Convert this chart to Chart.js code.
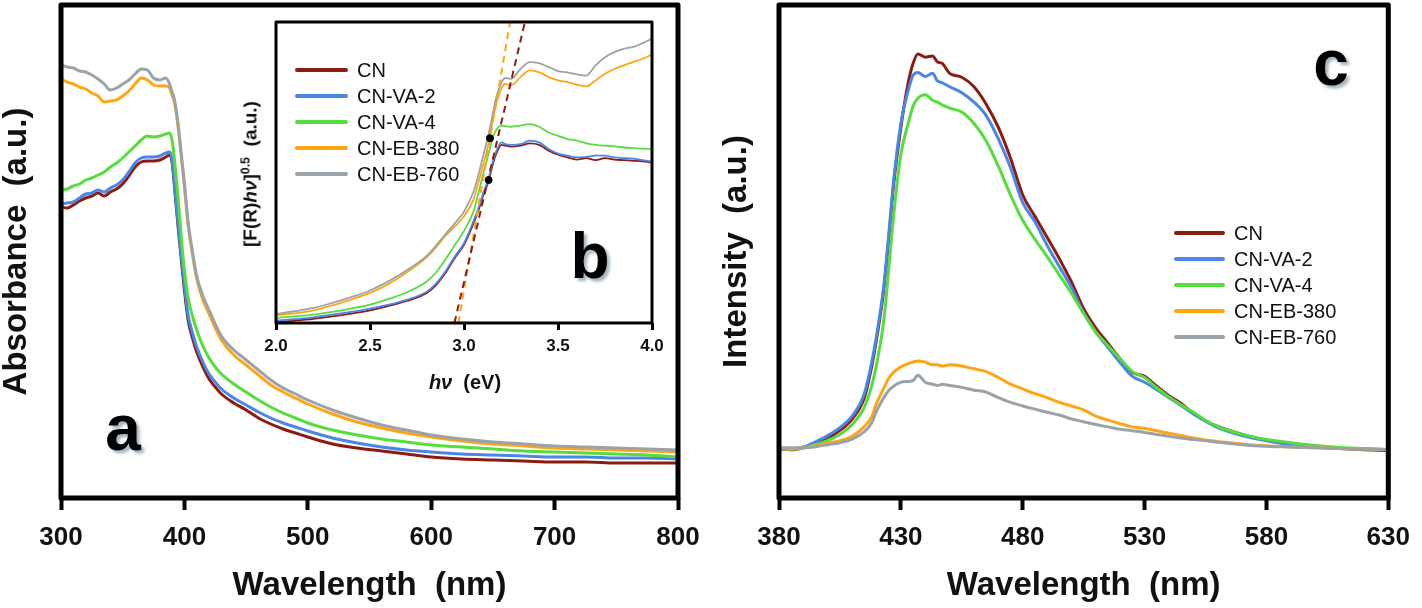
<!DOCTYPE html>
<html><head><meta charset="utf-8">
<script src="https://cdn.jsdelivr.net/npm/chart.js@4.4.1/dist/chart.umd.min.js"></script>
<style>
html,body{margin:0;padding:0;background:#fff;}
#wrap{position:relative;width:1422px;height:608px;overflow:hidden;font-family:"Liberation Sans",Arial,sans-serif;}
canvas{position:absolute;}
.lbl{position:absolute;font-weight:bold;font-size:64px;line-height:1;color:#000;text-shadow:3px 3px 3px rgba(90,120,135,0.55);transform:translateX(-50%);white-space:nowrap;}
.t{position:absolute;font-weight:bold;color:#111;white-space:nowrap;line-height:1;}
.t sup{font-size:0.65em;vertical-align:0.55em;line-height:0;}
</style></head><body>
<div id="wrap">
<canvas id="ca" width="720" height="608" style="left:0;top:0"></canvas>
<canvas id="cb" width="440" height="390" style="left:230px;top:12px"></canvas>
<canvas id="cc" width="702" height="608" style="left:720px;top:0"></canvas>
<div class="lbl" style="left:123px;top:396px">a</div>
<div class="lbl" style="left:590px;top:224px">b</div>
<div class="lbl" style="left:1331px;top:31px">c</div>
<div class="t" style="left:465px;top:372px;font-size:20px;transform:translateX(-50%)"><i>hν</i>&nbsp;&nbsp;(eV)</div>
<div class="t" style="left:250px;top:174px;font-size:19px;transform:translate(-50%,-50%) rotate(-90deg)">[F(R)<i>hν</i>]<sup>0.5</sup>&nbsp;&nbsp;(a.u.)</div>
</div>
<script>
// ---------- DATA ----------
const seriesNames = ['CN','CN-VA-2','CN-VA-4','CN-EB-380','CN-EB-760'];

// Panel a: absorbance vs wavelength (nm)
const wavelengthA = [300,305,310,315,320,325,330,335,340,345,350,355,360,365,370,375,380,385,388,390,392,395,398,400,403,407,410,415,420,425,430,440,450,460,470,480,490,500,520,540,560,580,600,625,650,675,700,725,750,775,800];
const absCN    = [58.2,58.0,58.6,59.4,60.0,60.4,61.0,60.4,61.2,61.8,62.8,64.4,66.2,67.2,67.4,67.4,67.6,68.2,68.6,67.2,62.2,54.0,46.4,41.6,35.6,31.6,29.2,26.2,23.8,22.2,20.8,19.0,17.6,16.0,14.8,13.8,13.0,12.2,10.8,10.0,9.4,8.8,8.2,7.8,7.6,7.4,7.2,7.2,7.0,7.0,7.0];
const absVA2   = [58.8,59.0,59.2,60.0,60.8,61.0,61.6,61.2,62.0,62.6,63.6,65.2,67.0,68.0,68.2,68.2,68.4,69.0,69.2,67.6,62.6,54.6,47.2,42.6,36.6,32.6,30.2,27.2,24.8,23.2,21.8,20.0,18.6,17.2,16.0,15.0,14.2,13.4,12.0,11.0,10.2,9.6,9.2,8.8,8.6,8.4,8.2,8.2,8.0,8.0,7.8];
const absVA4   = [61.6,61.8,62.4,62.8,63.6,64.0,64.6,65.2,66.2,67.0,68.0,69.2,70.4,71.6,72.4,72.2,72.4,72.8,73.0,71.6,67.6,59.6,50.6,45.6,40.0,36.0,33.6,30.4,28.0,26.2,24.8,22.8,21.2,19.6,18.2,17.0,16.0,15.0,13.6,12.6,11.8,11.2,10.6,10.2,9.8,9.4,9.2,9.0,8.8,8.6,8.2];
const absEB380 = [83.8,83.2,82.8,82.2,81.8,81.0,80.4,79.2,79.4,79.6,80.4,81.4,82.8,84.0,83.6,82.6,82.4,82.4,82.0,80.6,79.0,74.0,67.0,62.4,54.6,48.0,43.8,39.6,36.8,34.0,31.6,28.6,26.6,24.6,22.6,21.2,20.0,18.8,16.8,15.2,14.0,13.0,12.2,11.4,10.8,10.4,10.0,9.8,9.6,9.4,9.2];
const absEB760 = [86.6,86.2,86.0,85.4,85.2,84.6,83.8,82.8,81.6,82.0,82.8,83.6,84.8,85.8,85.6,84.0,83.6,84.0,82.8,81.2,79.6,74.6,67.6,63.0,55.2,48.6,44.4,40.4,37.6,34.8,32.4,29.6,27.6,25.6,23.6,22.0,20.8,19.6,17.6,16.0,14.6,13.6,12.6,11.8,11.2,10.8,10.4,10.2,10.0,9.8,9.6];
const ticksA = [300,400,500,600,700,800];

// Panel b (inset): Tauc plot vs photon energy (eV)
const energyB = [2.0,2.1,2.2,2.3,2.4,2.5,2.6,2.7,2.8,2.85,2.9,2.95,3.0,3.05,3.08,3.1,3.13,3.15,3.17,3.2,3.22,3.25,3.3,3.35,3.4,3.45,3.5,3.55,3.6,3.65,3.7,3.75,3.8,3.85,3.9,3.95,4.0];
const tcCN    = [0.3,0.8,1.4,2.2,3.1,4.2,5.7,7.4,9.9,12.5,16.5,21.5,26.0,33.0,38.0,42.0,47.0,52.0,56.0,59.2,58.9,58.6,58.9,59.7,59.2,57.2,55.9,55.0,54.3,54.8,54.1,54.8,54.3,54.1,53.9,53.7,53.3];
const tcVA2   = [0.8,1.3,1.9,2.8,3.7,4.8,6.1,7.8,10.3,13.0,17.0,22.0,26.5,33.8,38.8,42.8,47.8,52.8,56.8,60.0,59.4,59.2,59.4,60.6,60.0,57.8,56.3,55.6,55.0,55.2,55.6,55.6,55.0,54.8,54.6,54.1,53.6];
const tcVA4   = [1.7,2.2,2.8,3.7,4.8,6.1,8.0,10.3,13.7,16.7,21.0,25.8,30.6,37.0,44.0,49.0,56.0,61.0,64.0,65.6,65.4,65.2,65.6,66.1,65.2,63.3,62.2,61.1,60.6,59.7,59.2,58.9,58.7,58.3,58.1,57.9,57.8];
const tcEB380 = [2.6,3.2,4.2,5.9,7.8,10.0,13.0,17.0,21.7,25.0,28.9,32.0,35.5,41.0,47.5,52.0,59.5,66.5,72.5,78.1,79.4,78.9,81.7,83.9,83.3,81.7,80.6,80.0,79.2,78.6,80.6,82.8,84.4,85.6,86.7,87.8,89.2];
const tcEB760 = [3.0,3.9,5.0,6.7,8.6,10.8,13.9,17.7,22.2,25.6,29.4,33.0,37.0,43.5,50.0,55.0,62.5,68.5,74.5,80.0,81.4,81.1,84.4,86.7,86.3,85.0,83.7,83.3,82.6,82.2,85.6,88.3,90.0,91.1,91.7,93.0,94.4];
const tangentEB380X = [2.970, 3.245];
const tangentCNX    = [2.949, 3.324];
const tangentY      = [0, 100];
const markerX = [3.138, 3.131];
const markerY = [61.4, 47.5];

// Panel c: PL intensity vs wavelength (nm)
const wavelengthC = [380,385,390,395,400,405,410,415,418,420,423,425,427,430,433,435,437,440,443,445,447,450,455,460,465,470,475,480,485,490,495,500,505,510,515,520,525,530,535,540,545,550,555,560,570,580,590,600,610,620,630];
const plCN    = [0,-0.2,0.3,1.3,2.7,4.7,7.6,13.0,20.8,27.7,40.4,53.1,66.8,81.4,92.7,97.6,100,99.2,99.5,98.0,97.6,95.1,94.1,91.7,87.3,81.4,73.6,64.3,58.9,53.6,48.2,42.3,35.5,30.6,26.7,22.8,19.4,18.4,15.9,13.5,11.5,9.1,7.1,5.7,3.7,2.2,1.3,0.5,0.1,-0.2,-0.4];
const plVA2   = [0,0,0.5,1.8,3.4,5.4,8.3,14.0,21.8,28.6,41.3,54.1,67.7,82.4,90.7,94.6,95.3,94.3,95.1,93.2,92.7,91.7,90.2,87.8,84.4,78.5,71.2,62.4,57.5,51.6,46.2,40.9,34.5,29.6,25.7,21.8,18.4,16.9,15.0,13.0,11.0,8.9,7.1,5.4,3.4,2.1,1.1,0.5,0.2,0,-0.2];
const plVA4   = [0.1,0,0.3,1.1,2.2,3.7,6.2,10.6,15.9,21.3,32.6,45.3,58.9,74.6,82.4,86.8,88.8,89.7,88.3,87.8,87.1,86.3,85.3,82.4,78.0,71.6,64.3,57.9,53.1,48.7,44.1,39.4,34.3,29.6,26.2,22.8,19.6,18.1,15.5,13.2,11.2,9.3,7.3,5.7,3.7,2.4,1.6,0.9,0.4,0.1,-0.1];
const plEB380 = [0.1,0,0.3,0.8,1.5,2.1,3.2,5.7,8.1,11.5,15.4,17.9,19.4,20.8,21.6,22.0,22.3,22.0,21.3,21.3,21.0,21.3,21.0,20.3,19.6,18.1,16.4,15.2,14.0,13.0,11.8,10.9,9.9,8.3,7.3,6.4,5.6,5.2,4.6,4.0,3.4,2.8,2.3,1.9,1.3,0.8,0.5,0.3,0.1,0,-0.1];
const plEB760 = [0.3,0.3,0.3,0.6,1.1,1.6,2.5,4.4,6.6,9.6,13.0,14.8,15.9,16.9,17.1,17.3,18.7,16.9,16.4,16.1,16.4,16.1,15.6,14.9,14.4,13.0,11.8,10.9,10.1,9.3,8.6,7.6,6.9,6.2,5.6,5.0,4.6,4.2,3.7,3.2,2.8,2.4,2.1,1.7,1.1,0.7,0.5,0.3,0.1,0,-0.1];

// ---------- STYLE ----------
const FONT = '"Liberation Sans", Arial, sans-serif';
const colors = ['#8E1B12','#4A86E8','#55DD3C','#FFA515','#9AA3A9'];

function pts(xs, ys){ return xs.map((x,i)=>({x:x, y:ys[i]})); }
function sampleSets(xs, list, w){
  return list.map((ys,i)=>({
    label: seriesNames[i], data: pts(xs, ys), inLegend: true,
    borderColor: colors[i], backgroundColor: colors[i], borderWidth: w,
    pointRadius: 0, fill: false, cubicInterpolationMode: 'monotone',
    borderCapStyle: 'round', borderJoinStyle: 'round', order: 10 - i
  }));
}

const framePlugin = {
  id: 'frame',
  afterDatasetsDraw(chart, args, o){
    const {ctx, chartArea:a} = chart;
    ctx.save(); ctx.strokeStyle = '#000'; ctx.lineWidth = o.width; ctx.lineJoin = 'round';
    ctx.strokeRect(a.left, a.top, a.right - a.left, a.bottom - a.top);
    ctx.restore();
  }
};
const legendPlugin = {
  id: 'sampleLegend',
  afterDraw(chart, args, o){
    if (!o || !o.show) return;
    const ctx = chart.ctx;
    const items = chart.data.datasets.filter(d => d.inLegend);
    items.forEach((ds, i) => {
      const y = o.y0 + i * o.dy;
      ctx.save();
      ctx.strokeStyle = ds.borderColor; ctx.lineWidth = o.lw; ctx.lineCap = 'round';
      ctx.beginPath(); ctx.moveTo(o.x1, y); ctx.lineTo(o.x2, y); ctx.stroke();
      ctx.fillStyle = '#111'; ctx.font = o.font; ctx.textBaseline = 'middle'; ctx.textAlign = 'left';
      ctx.fillText(ds.label, o.tx, y + 1);
      ctx.restore();
    });
  }
};

function xScale(min, max, step, tickSize, tickLen, tickW, pad, titleText, h, fmt){
  const s = {
    type: 'linear', position: 'bottom', min: min, max: max,
    ticks: { stepSize: step, autoSkip: false, maxRotation: 0, minRotation: 0, padding: pad, color: '#111',
             font: { family: FONT, size: tickSize, weight: 'bold' }, callback: fmt },
    grid: { display: true, drawOnChartArea: false, drawTicks: true, tickLength: tickLen, tickWidth: tickW, tickColor: '#000', color: '#000' },
    border: { display: false },
    afterFit: sc => { sc.height = h; }
  };
  if (titleText) s.title = { display: true, text: titleText, color: '#111', font: { family: FONT, size: 33, weight: 'bold', lineHeight: 1.2 }, padding: { top: 0, bottom: 2 } };
  return s;
}
function yScale(min, max, titleText, w){
  return {
    type: 'linear', min: min, max: max,
    ticks: { display: false }, grid: { display: false }, border: { display: false },
    title: { display: true, text: titleText, color: '#111', font: { family: FONT, size: 33, weight: 'bold', lineHeight: 1 }, padding: 0 },
    afterFit: sc => { sc.width = w; }
  };
}
const base = { responsive: false, animation: false, devicePixelRatio: 1, events: [] };

// ---------- PANEL A ----------
new Chart(document.getElementById('ca'), {
  type: 'line',
  data: { datasets: sampleSets(wavelengthA, [absCN, absVA2, absVA4, absEB380, absEB760], 3) },
  options: Object.assign({}, base, {
    layout: { padding: { left: 0, right: 42, top: 5, bottom: 0 } },
    scales: {
      x: xScale(ticksA[0], ticksA[ticksA.length-1], 100, 26, 12, 4, 12, 'Wavelength  (nm)', 110, v => String(v)),
      y: yScale(0, 98.6, 'Absorbance  (a.u.)', 61)
    },
    plugins: { legend: { display: false }, tooltip: { enabled: false }, frame: { width: 5 }, sampleLegend: { show: false } }
  }),
  plugins: [framePlugin, legendPlugin]
});

// ---------- PANEL B (inset) ----------
const insetSets = sampleSets(energyB, [tcCN, tcVA2, tcVA4, tcEB380, tcEB760], 1.8);
insetSets.push({ label: 'fit380', data: pts(tangentEB380X, tangentY), borderColor: '#FFA515', borderWidth: 2, borderDash: [7,5], pointRadius: 0, order: 2 });
insetSets.push({ label: 'fitCN', data: pts(tangentCNX, tangentY), borderColor: '#8E1B12', borderWidth: 2, borderDash: [7,5], pointRadius: 0, order: 1 });
insetSets.push({ label: 'pts', data: pts(markerX, markerY), showLine: false, pointRadius: 3.5, pointBackgroundColor: '#000', pointBorderColor: '#000', borderColor: '#000', order: 0 });
new Chart(document.getElementById('cb'), {
  type: 'line',
  data: { datasets: insetSets },
  options: Object.assign({}, base, {
    layout: { padding: { left: 46, right: 18, top: 10, bottom: 0 } },
    scales: {
      x: xScale(2, 4, 0.5, 17, 7, 3, 6, null, 79, v => Number(v).toFixed(1)),
      y: { type: 'linear', min: 0, max: 100, display: false }
    },
    plugins: { legend: { display: false }, tooltip: { enabled: false }, frame: { width: 3 },
      sampleLegend: { show: true, x1: 67, x2: 116, tx: 127, y0: 58, dy: 26, lw: 4, font: '20px ' + FONT } }
  }),
  plugins: [framePlugin, legendPlugin]
});

// ---------- PANEL C ----------
new Chart(document.getElementById('cc'), {
  type: 'line',
  data: { datasets: sampleSets(wavelengthC, [plCN, plVA2, plVA4, plEB380, plEB760], 3) },
  options: Object.assign({}, base, {
    layout: { padding: { left: 0, right: 25, top: 5, bottom: 0 } },
    scales: {
      x: xScale(380, 630, 50, 26, 12, 4, 12, 'Wavelength  (nm)', 110, v => String(v)),
      y: yScale(-12.4, 112.4, 'Intensity  (a.u.)', 59)
    },
    plugins: { legend: { display: false }, tooltip: { enabled: false }, frame: { width: 5 },
      sampleLegend: { show: true, x1: 456, x2: 503, tx: 514, y0: 233, dy: 26, lw: 4, font: '20px ' + FONT } }
  }),
  plugins: [framePlugin, legendPlugin]
});
</script>
</body></html>
